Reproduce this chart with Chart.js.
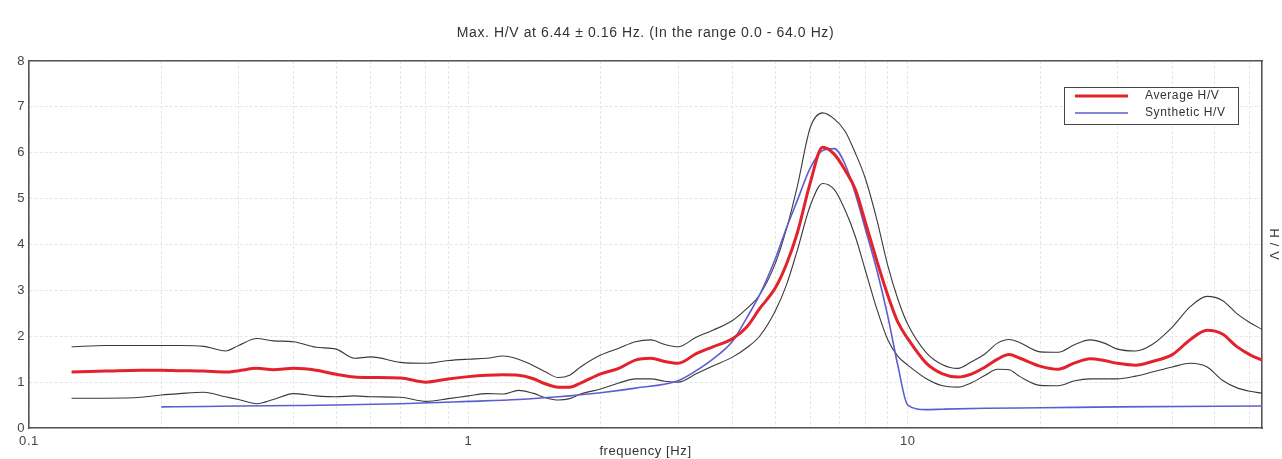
<!DOCTYPE html>
<html><head><meta charset="utf-8">
<script src="https://cdn.jsdelivr.net/npm/chart.js@4.4.1/dist/chart.umd.min.js"></script>
<style>html,body{margin:0;padding:0;background:#fff;overflow:hidden}#wrap{width:1282px;height:459px;position:relative}</style>
</head><body><div id="wrap"><canvas id="c" width="1282" height="459"></canvas></div>
<script>
const titleText = 'Max. H/V at 6.44 \u00b1 0.16 Hz. (In the range 0.0 - 64.0 Hz)';
const xTitle = 'frequency [Hz]';
const yTitle = 'H / V';

const freqs = [0.125,0.15,0.18,0.2,0.22,0.25,0.28,0.3,0.33,0.36,
  0.4,0.45,0.5,0.55,0.6,0.7,0.8,0.9,1.0,1.1,
  1.2,1.3,1.4,1.5,1.6,1.7,1.8,2.0,2.2,2.4,
  2.6,2.8,3.0,3.3,3.6,4.0,4.3,4.6,5.0,5.3,
  5.6,6.0,6.4,6.8,7.2,7.6,8.0,8.5,9.0,9.5,
  10,11,12,13,14,15,16,17,18,20,
  22,24,26,28,30,33,36,40,44,48,
  52,56,60,64];

const averageHV = [1.22,1.24,1.26,1.26,1.25,1.24,1.22,1.25,1.30,1.27,
  1.30,1.26,1.17,1.11,1.10,1.09,1.00,1.07,1.12,1.15,
  1.16,1.15,1.08,0.96,0.89,0.89,0.98,1.18,1.30,1.48,
  1.52,1.45,1.41,1.62,1.77,1.95,2.2,2.6,3.06,3.58,
  4.24,5.35,6.12,5.97,5.62,5.2,4.5,3.65,2.9,2.3,
  1.95,1.42,1.18,1.11,1.18,1.33,1.5,1.6,1.52,1.35,
  1.28,1.42,1.51,1.47,1.41,1.37,1.45,1.6,1.93,2.13,
  2.05,1.78,1.6,1.48];

const upperHV = [1.77,1.80,1.80,1.80,1.80,1.78,1.68,1.80,1.95,1.90,
  1.88,1.76,1.72,1.52,1.55,1.43,1.41,1.47,1.50,1.52,
  1.57,1.50,1.37,1.22,1.10,1.15,1.33,1.59,1.74,1.88,
  1.92,1.82,1.77,1.98,2.13,2.35,2.6,2.9,3.6,4.35,
  5.25,6.55,6.87,6.74,6.47,5.99,5.45,4.55,3.55,2.8,
  2.26,1.65,1.38,1.30,1.45,1.62,1.85,1.93,1.86,1.66,
  1.65,1.82,1.92,1.85,1.72,1.68,1.82,2.2,2.65,2.87,
  2.78,2.5,2.3,2.15];

const lowerHV = [0.65,0.65,0.67,0.72,0.75,0.78,0.68,0.62,0.53,0.62,
  0.75,0.70,0.68,0.70,0.68,0.67,0.58,0.64,0.70,0.75,
  0.74,0.82,0.76,0.66,0.61,0.64,0.74,0.85,0.98,1.07,
  1.07,1.02,1.00,1.18,1.35,1.55,1.75,2.0,2.56,3.13,
  3.86,4.85,5.33,5.2,4.75,4.17,3.45,2.6,1.93,1.56,
  1.37,1.08,0.92,0.89,0.99,1.15,1.28,1.27,1.12,0.93,
  0.92,1.03,1.07,1.07,1.07,1.13,1.22,1.33,1.41,1.33,
  1.04,0.88,0.80,0.76];

const freqSynthetic = [0.2,0.25,0.3,0.4,0.5,0.7,1.0,1.3,1.6,2.0,
  2.4,3.0,3.3,3.6,4.0,4.3,4.6,5.0,5.3,5.6,
  6.0,6.4,6.8,7.2,7.6,8.0,8.5,9.0,9.5,10,
  11,12,15,20,30,64];
const syntheticHV = [0.46,0.47,0.48,0.49,0.50,0.53,0.58,0.62,0.68,0.77,
  0.87,1.03,1.25,1.5,1.9,2.4,2.9,3.7,4.37,4.95,
  5.67,6.05,6.09,5.75,5.1,4.35,3.45,2.45,1.35,0.5,
  0.40,0.41,0.43,0.44,0.46,0.48];

const xGridValues = [0.1,0.2,0.3,0.4,0.5,0.6,0.7,0.8,0.9,1,2,3,4,5,6,7,8,9,10,20,30,40,50,60];
const xTickLabels = [0.1, 1, 10];
const yMin = 0, yMax = 8, yStep = 1;
const xMin = 0.1, xMax = 64;

const FONT = "'Liberation Sans', Arial, sans-serif";
const toPts = (xs, ys) => xs.map((x, i) => ({x: x, y: ys[i]}));

const spacingPlugin = {
  id: 'spacing',
  beforeDraw(chart) { chart.ctx.letterSpacing = '0.6px'; }
};

const boxLegend = {
  id: 'boxLegend',
  afterDatasetsDraw(chart) {
    const ctx = chart.ctx, a = chart.chartArea;
    const items = chart.data.datasets.filter(d => d.inBox);
    const w = 174, h = 37;
    const left = Math.round(a.right - 24 - w), top = Math.round(a.top + 26);
    ctx.save();
    ctx.fillStyle = '#fff';
    ctx.fillRect(left, top, w, h);
    ctx.strokeStyle = '#444';
    ctx.lineWidth = 1;
    ctx.strokeRect(left + 0.5, top + 0.5, w, h);
    ctx.font = '12px ' + FONT;
    ctx.textBaseline = 'middle';
    ctx.textAlign = 'left';
    items.forEach((d, i) => {
      const y = top + 9 + i * 17;
      ctx.beginPath();
      ctx.strokeStyle = d.borderColor;
      ctx.lineWidth = d.borderWidth;
      ctx.moveTo(left + 11, y);
      ctx.lineTo(left + 64, y);
      ctx.stroke();
      ctx.fillStyle = '#333';
      ctx.fillText(d.label, left + 81, y);
    });
    ctx.restore();
  }
};

new Chart(document.getElementById('c'), {
  type: 'line',
  data: {
    datasets: [
      {label: 'Average H/V', inBox: true, data: toPts(freqs, averageHV), borderColor: '#e2232b', borderWidth: 3},
      {label: 'Synthetic H/V', inBox: true, data: toPts(freqSynthetic, syntheticHV), borderColor: '#5d5dd2', borderWidth: 1.6},
      {label: 'Upper', data: toPts(freqs, upperHV), borderColor: '#3a3a3a', borderWidth: 1.1},
      {label: 'Lower', data: toPts(freqs, lowerHV), borderColor: '#3a3a3a', borderWidth: 1.1}
    ].map(d => Object.assign({pointRadius: 0, fill: false, cubicInterpolationMode: 'monotone'}, d))
  },
  options: {
    responsive: false,
    animation: false,
    devicePixelRatio: 1,
    layout: {padding: 0},
    plugins: {
      legend: {display: false},
      tooltip: {enabled: false},
      title: {
        display: true, text: titleText, color: '#333', fullSize: false,
        font: {family: FONT, size: 14, weight: 'normal'},
        padding: {top: 24.6, bottom: 19.6}
      }
    },
    scales: {
      x: {
        type: 'logarithmic', min: xMin, max: xMax, position: 'bottom',
        afterBuildTicks(s) { s.ticks = xGridValues.map(v => ({value: v})); },
        afterFit(s) { s.height = 31; },
        ticks: {
          autoSkip: false, maxRotation: 0, padding: 6, color: '#444',
          font: {family: FONT, size: 13},
          callback(v) { return xTickLabels.includes(v) ? String(v) : ''; }
        },
        grid: {color: '#e6e6e6', lineWidth: 1, drawTicks: false},
        border: {display: true, color: '#555', width: 1.6, dash: [3, 2]},
        title: {display: true, text: xTitle, color: '#333', font: {family: FONT, size: 13}, padding: {top: 0, bottom: 0}}
      },
      x2: {
        type: 'logarithmic', min: xMin, max: xMax, position: 'top',
        afterFit(s) { s.height = 0; },
        ticks: {display: false},
        grid: {display: false, drawTicks: false},
        border: {display: true, color: '#555', width: 1.6}
      },
      y: {
        type: 'linear', min: yMin, max: yMax, position: 'left',
        afterFit(s) { s.width = 29; },
        ticks: {stepSize: yStep, padding: 4, color: '#444', font: {family: FONT, size: 13}},
        grid: {color: '#e6e6e6', lineWidth: 1, drawTicks: false},
        border: {display: true, color: '#555', width: 1.6, dash: [3, 2]}
      },
      y2: {
        type: 'linear', min: yMin, max: yMax, position: 'right',
        afterFit(s) { s.width = 20; },
        ticks: {display: false},
        grid: {display: false, drawTicks: false},
        border: {display: true, color: '#555', width: 1.6},
        title: {display: true, text: yTitle, color: '#333', font: {family: FONT, size: 13}, padding: {top: 1, bottom: 0}}
      }
    }
  },
  plugins: [spacingPlugin, boxLegend]
});
</script>
</body></html>
